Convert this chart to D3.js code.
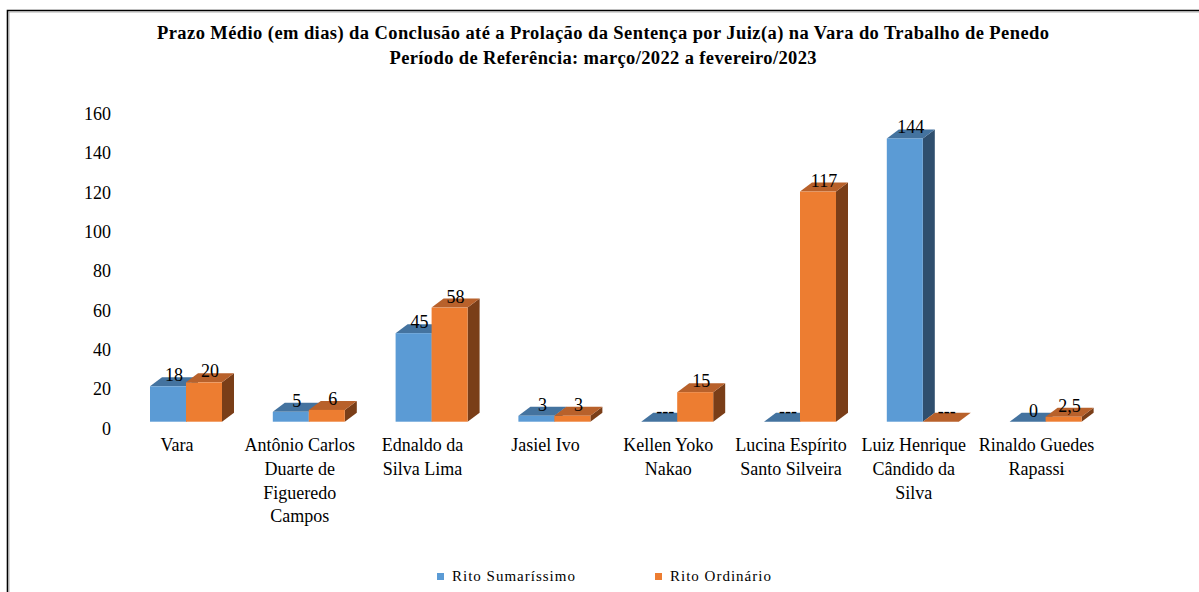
<!DOCTYPE html>
<html>
<head>
<meta charset="utf-8">
<script src="https://cdn.jsdelivr.net/npm/d3@7"></script>
<style>
  body { margin: 0; background: #fff; }
</style>
</head>
<body>
<div id="chart"></div>
<script>
// data
let categories = ["Vara", "Antônio Carlos", "Ednaldo", "Jasiel", "Kellen", "Lucina", "Luiz", "Rinaldo"];
let categoryLines = [
    ["Vara"],
    ["Antônio Carlos", "Duarte de", "Figueredo", "Campos"],
    ["Ednaldo da", "Silva Lima"],
    ["Jasiel Ivo"],
    ["Kellen Yoko", "Nakao"],
    ["Lucina Espírito", "Santo Silveira"],
    ["Luiz Henrique", "Cândido da", "Silva"],
    ["Rinaldo Guedes", "Rapassi"]
];
let series = ["Rito Sumaríssimo", "Rito Ordinário"];
let sumarissimo = [18, 5, 45, 3, null, null, 144, 0];
let ordinario = [20, 6, 58, 3, 15, 117, null, 2.5];
let yTicks = [0, 20, 40, 60, 80, 100, 120, 140, 160];
let titleLines = [
    "Prazo Médio (em dias) da Conclusão até a Prolação da Sentença por Juiz(a) na Vara do Trabalho de Penedo",
    "Período de Referência: março/2022 a fevereiro/2023"
];
let titleWidths = [892, 427];

let colors = {
    front: ["#5b9bd5", "#ed7d31"],
    top:   ["#44739f", "#b8612b"],
    side:  ["#2f4f6e", "#7a3e18"]
};

let serif = "'Liberation Serif', 'Times New Roman', Times, serif";

let dim = {
    width: 1199, height: 592,
    plot: { left: 115.6, right: 1098, base: 421.7, top: 107 },
    depth: { dx: 12, dy: 9 },
    barWidth: 36
};

let x = d3.scaleBand()
        .domain(categories)
        .range([dim.plot.left, dim.plot.right]);

let xs = d3.scaleBand()
        .domain(series)
        .range([0, dim.barWidth * 2]);

let y = d3.scaleLinear()
        .domain([0, 160])
        .range([dim.plot.base, dim.plot.top]);

let svg = d3.select("#chart").append("svg")
        .attr("width", dim.width)
        .attr("height", dim.height)
        .attr("font-family", serif)
        .style("font-family", serif);

// frame
svg.append("path")
        .attr("d", "M7.5,600 V10.5 H1210")
        .attr("fill", "none")
        .attr("stroke", "#000")
        .attr("stroke-width", 1.6);
svg.append("path")
        .attr("d", "M9,600 V12 H1210")
        .attr("fill", "none")
        .attr("stroke", "#999")
        .attr("stroke-width", 0.8);

// title
svg.append("g")
        .attr("class", "title")
    .selectAll("text").data(titleLines)
    .enter().append("text")
        .attr("x", 603)
        .attr("y", function(d, i) { return 39 + i * 24.5; })
        .attr("text-anchor", "middle")
        .attr("textLength", function(d, i) { return titleWidths[i]; })
        .attr("lengthAdjust", "spacing")
        .style("font-family", serif)
        .style("font-size", "18.5px")
        .style("font-weight", "bold")
        .text(function(d) { return d; });

// y axis (labels only)
let yAxis = d3.axisLeft(y)
        .tickValues(yTicks)
        .tickSize(0)
        .tickPadding(0)
        .tickFormat(d3.format("d"));

svg.append("g")
        .attr("class", "y axis")
        .attr("transform", "translate(111,6.6)")
        .call(yAxis)
        .call(function(g) { g.select(".domain").remove(); })
        .selectAll("text")
        .style("font-family", serif)
        .style("font-size", "18px")
        .attr("fill", "#000");

// bars
let bars = [];
categories.forEach(function(c, i) {
    [sumarissimo, ordinario].forEach(function(arr, s) {
        bars.push({ cat: c, s: s, value: arr[i] });
    });
});

function barX(d) {
    return x(d.cat) + x.bandwidth() / 2 + 9 - dim.barWidth + xs(series[d.s]);
}

let dx = dim.depth.dx, dy = dim.depth.dy;

let barG = svg.append("g").attr("class", "bars")
    .selectAll("g").data(bars)
    .enter().append("g");

barG.each(function(d) {
    let g = d3.select(this);
    let v = d.value == null ? 0 : d.value;
    let x0 = barX(d), x1 = x0 + xs.bandwidth();
    let yt = y(v), yb = y(0);
    if (v > 0) {
        g.append("path")
            .attr("d", "M" + x1 + "," + yb + "L" + (x1 + dx) + "," + (yb - dy) +
                "L" + (x1 + dx) + "," + (yt - dy) + "L" + x1 + "," + yt + "Z")
            .attr("fill", colors.side[d.s]);
    }
    g.append("path")
        .attr("d", "M" + x0 + "," + yt + "L" + (x0 + dx) + "," + (yt - dy) +
            "L" + (x1 + dx) + "," + (yt - dy) + "L" + x1 + "," + yt + "Z")
        .attr("fill", colors.top[d.s]);
    if (v > 0) {
        g.append("rect")
            .attr("x", x0)
            .attr("y", yt)
            .attr("width", x1 - x0)
            .attr("height", yb - yt)
            .attr("fill", colors.front[d.s]);
    }
});

// data labels
let labelFormat = function(v) {
    if (v == null) return "---";
    return String(v).replace(".", ",");
};

svg.append("g").attr("class", "labels")
    .selectAll("text").data(bars)
    .enter().append("text")
        .attr("x", function(d) { return barX(d) + xs.bandwidth() / 2 + dx / 2; })
        .attr("y", function(d) { return y(d.value == null ? 0 : d.value) - 5; })
        .attr("text-anchor", "middle")
        .style("font-family", serif)
        .style("font-size", "18px")
        .text(function(d) { return labelFormat(d.value); });

// category labels
svg.append("g").attr("class", "x labels")
    .selectAll("text").data(categories)
    .enter().append("text")
        .attr("text-anchor", "middle")
        .attr("transform", function(d) { return "translate(" + (x(d) + x.bandwidth() / 2) + ",451)"; })
        .style("font-family", serif)
        .style("font-size", "18px")
    .each(function(d, i) {
        d3.select(this).selectAll("tspan").data(categoryLines[i])
            .enter().append("tspan")
            .attr("x", 0)
            .attr("y", function(l, j) { return j * 23.8; })
            .text(function(l) { return l; });
    });

// legend
let legend = svg.append("g").attr("class", "legend")
    .selectAll("g").data(series)
    .enter().append("g")
        .attr("transform", function(d, i) { return "translate(" + (437 + i * 218) + ",573)"; });

legend.append("rect")
        .attr("width", 7)
        .attr("height", 7)
        .attr("fill", function(d, i) { return colors.front[i]; });

legend.append("text")
        .attr("x", 15)
        .attr("y", 7.5)
        .style("font-family", serif)
        .style("font-size", "15px")
        .style("letter-spacing", "1px")
        .text(function(d) { return d; });
</script>
</body>
</html>
